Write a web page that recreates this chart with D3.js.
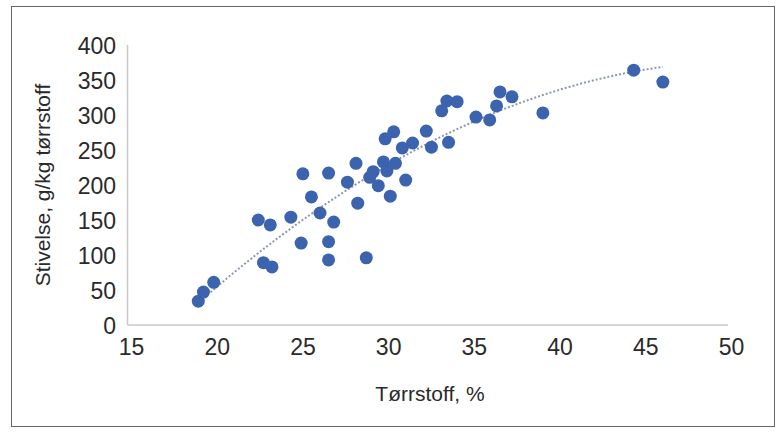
<!DOCTYPE html>
<html><head><meta charset="utf-8">
<script src="https://cdn.jsdelivr.net/npm/d3@7"></script>
<style>
html,body{margin:0;padding:0;background:#fff;}
svg text{font-family:"Liberation Sans",Arial,sans-serif;fill:#2a2a2a;}
</style></head>
<body><svg id="c" width="779" height="432"></svg>
<script>
// Tørrstoff, % (x) and Stivelse, g/kg tørrstoff (y)
const torrstoff = [19.1,19.4,20.0,22.9,23.4,22.6,23.3,24.5,25.1,25.7,26.2,27.0,26.7,26.7,28.9,
  25.2,26.7,28.3,27.8,28.4,29.1,29.9,30.6,29.6,30.3,31.2,30.1,29.3,30.0,30.5,31.0,31.6,32.4,
  32.7,33.7,33.3,33.6,34.2,35.3,36.1,36.5,36.7,37.4,39.2,44.5,46.2];
const stivelse = [34,47,61,89,83,150,143,154,117,183,160,147,119,93,96,
  216,217,231,204,174,211,233,231,199,184,207,220,219,266,276,253,260,277,
  254,261,306,320,319,297,293,313,333,326,303,364,347];
const xTicks = [15,20,25,30,35,40,45,50];
const yTicks = [0,50,100,150,200,250,300,350,400];
const xTitle = "Tørrstoff, %";
const yTitle = "Stivelse, g/kg tørrstoff";

const svg = d3.select("#c");
svg.append("rect").attr("x",11.5).attr("y",6.5).attr("width",763).attr("height",420)
  .attr("fill","none").attr("stroke","#666").attr("stroke-width",1);

const x = d3.scaleLinear().domain([15,50]).range([128,728]);
const y = d3.scaleLinear().domain([0,400]).range([325,45]);

svg.append("line").attr("x1",x(15)-0.5).attr("x2",x(15)-0.5).attr("y1",y(400)).attr("y2",y(0))
  .attr("stroke","#c8c8c8").attr("stroke-width",1.5);
svg.append("line").attr("x1",x(15)-0.5).attr("x2",x(50)).attr("y1",y(0)).attr("y2",y(0))
  .attr("stroke","#c8c8c8").attr("stroke-width",1.5);

const xa = svg.append("g").attr("transform",`translate(3,${y(0)})`)
  .call(d3.axisBottom(x).tickValues(xTicks).tickSize(0).tickPadding(30).tickFormat(d3.format("d")));
xa.select(".domain").remove();
xa.selectAll("text").attr("font-size",23).attr("dy","0").attr("fill","#2a2a2a");

const ya = svg.append("g").attr("transform",`translate(${x(15)},0)`)
  .call(d3.axisLeft(y).tickValues(yTicks).tickSize(0).tickPadding(12).tickFormat(d3.format("d")));
ya.select(".domain").remove();
ya.selectAll("text").attr("font-size",23).attr("dy","0.36em").attr("fill","#2a2a2a");

svg.append("text").attr("x",430).attr("y",401).attr("text-anchor","middle")
  .attr("font-size",21).text(xTitle);
svg.append("text").attr("transform","translate(50,185) rotate(-90)").attr("text-anchor","middle")
  .attr("font-size",21).text(yTitle);

// polynomial (2nd order) trendline, least squares
const pts = torrstoff.map((v,i)=>[v,stivelse[i]]);
function polyfit2(P){
  let S=[0,0,0,0,0], T=[0,0,0];
  P.forEach(([u,v])=>{for(let k=0;k<5;k++)S[k]+=u**k; for(let k=0;k<3;k++)T[k]+=v*u**k;});
  const M=[[S[0],S[1],S[2],T[0]],[S[1],S[2],S[3],T[1]],[S[2],S[3],S[4],T[2]]];
  for(let i=0;i<3;i++){for(let j=i+1;j<3;j++){const f=M[j][i]/M[i][i];for(let k=i;k<4;k++)M[j][k]-=f*M[i][k];}}
  const c=[0,0,0];
  for(let i=2;i>=0;i--){let s=M[i][3];for(let k=i+1;k<3;k++)s-=M[i][k]*c[k];c[i]=s/M[i][i];}
  return c;
}
const c = polyfit2(pts);
const [xmin,xmax] = d3.extent(torrstoff);
const trend = d3.range(0,101).map(i=>{const xv = xmin+(xmax-xmin)*i/100; return [xv, c[0]+c[1]*xv+c[2]*xv*xv];});
svg.append("path").datum(trend)
  .attr("d",d3.line().x(d=>x(d[0])).y(d=>y(d[1])))
  .attr("fill","none").attr("stroke","#8c97b5").attr("stroke-width",2).attr("stroke-dasharray","2,2");

svg.append("g").selectAll("circle").data(pts).join("circle")
  .attr("cx",d=>x(d[0])).attr("cy",d=>y(d[1])).attr("r",6.5)
  .attr("fill","#3b63ae");
</script></body></html>
